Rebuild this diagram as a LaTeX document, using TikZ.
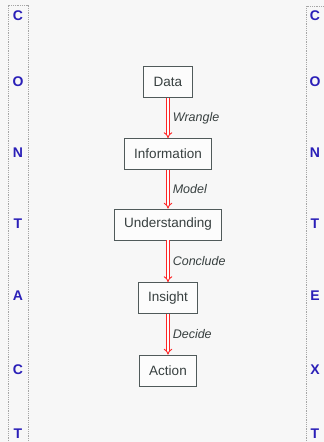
\documentclass[tikz,border=0pt]{standalone}
\usepackage{fontspec}
\setmainfont{Liberation Sans}
\usetikzlibrary{arrows.meta}
\definecolor{bgcol}{HTML}{F7F7F7}
\definecolor{boxline}{HTML}{505A5A}
\definecolor{txtcol}{HTML}{384040}
\definecolor{ctxblue}{HTML}{2A1FB8}
\begin{document}
\begin{tikzpicture}[x=1pt, y=-1pt,
  every node/.style={font=\fontsize{13.5}{16}\selectfont, text=txtcol},
  stage/.style={draw=boxline, line width=0.9pt, fill=white!60!bgcol, minimum height=31pt, inner xsep=10pt},
  flow/.style={red!85!white, double=white, double distance=2pt, line width=0.9pt, -{Implies}},
  act/.style={right, font=\fontsize{12.5}{15}\selectfont\itshape, xshift=1pt},
  ctx/.style={font=\fontsize{14}{16}\selectfont\bfseries, text=ctxblue},
  frame/.style={draw=gray!70, densely dotted, line width=0.8pt}]
  \fill [bgcol] (0,0) rectangle (324,442);
  \useasboundingbox (0,0) rectangle (324,442);
  % context frames
  \draw [frame] (8,450) -- (8,5) -- (28,5) -- (28,450);
  \draw [frame] (306,450) -- (306,6) -- (330,6);
  \foreach \ch/\y [count=\i] in {C/16, O/82, N/153, T/224, A/296, C/370, T/434}
    \node [ctx] (l\i) at (18,\y) {\ch};
  \foreach \ch/\y [count=\i] in {C/16, O/82, N/153, T/224, E/296, X/370, T/434}
    \node [ctx] (r\i) at (315,\y) {\ch};
  % stages
  \node [stage] (data) at (168,82) {Data};
  \node [stage] (info) at (168,154) {Information};
  \node [stage] (under) at (168,224.5) {Understanding};
  \node [stage] (insight) at (168,298) {Insight};
  \node [stage] (action) at (168,370.5) {Action};
  \draw [flow] (data) -- node [act] {Wrangle} (info);
  \draw [flow] (info) -- node [act] {Model} (under);
  \draw [flow] (under) -- node [act] {Conclude} (insight);
  \draw [flow] (insight) -- node [act] {Decide} (action);
\end{tikzpicture}
\end{document}
